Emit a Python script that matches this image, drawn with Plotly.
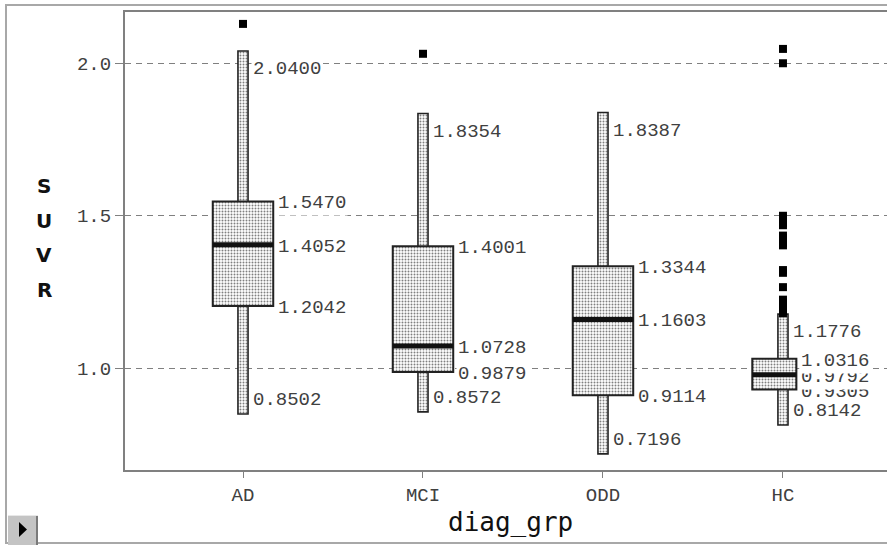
import plotly.graph_objects as go

# ---------------- data ----------------
groups = ["AD", "MCI", "ODD", "HC"]
whisker_low = [0.8502, 0.8572, 0.7196, 0.8142]
q1 = [1.2042, 0.9879, 0.9114, 0.9305]
median = [1.4052, 1.0728, 1.1603, 0.9792]
q3 = [1.5470, 1.4001, 1.3344, 1.0316]
whisker_high = [2.0400, 1.8354, 1.8387, 1.1776]

ad_outliers = [2.129]
mci_outliers = [2.031]
odd_outliers = []
hc_outliers = [2.047, 2.000, 1.500, 1.492, 1.484, 1.476, 1.469,
               1.435, 1.427, 1.419, 1.411, 1.403, 1.322, 1.313,
               1.266, 1.225, 1.216, 1.207, 1.198, 1.189, 1.180]

y_tick_vals = [1.0, 1.5, 2.0]
y_tick_text = ["1.0", "1.5", "2.0"]
x_title = "diag_grp"
y_title = "SUVR"

# ---------------- style ----------------
W, H = 887, 545
ML, MR, MT, MB = 125, 0, 12, 75
box_width = [0.336, 0.336, 0.336, 0.245]
box_shift = [0.0, 0.0, 0.0, -0.048]
whisker_width = 0.056
mono = "Liberation Mono"
txt_col = "#404040"
frame_col = "#808080"

idx = list(range(len(groups)))
pattern = dict(shape=".", fgcolor="#000000", bgcolor="#ffffff", size=3, solidity=0.33)

fig = go.Figure()

# whiskers as narrow patterned bars
fig.add_trace(go.Bar(
    x=idx, base=whisker_low,
    y=[h - l for h, l in zip(whisker_high, whisker_low)],
    width=whisker_width, offset=-whisker_width / 2,
    marker=dict(color="#ffffff", line=dict(color="#222222", width=1.6), pattern=pattern),
    showlegend=False, hoverinfo="skip"))

# boxes
fig.add_trace(go.Bar(
    x=idx, base=q1,
    y=[b - a for b, a in zip(q3, q1)],
    width=box_width,
    offset=[s - w / 2 for s, w in zip(box_shift, box_width)],
    marker=dict(color="#ffffff", line=dict(color="#222222", width=2), pattern=pattern),
    showlegend=False, hoverinfo="skip"))

# medians
mx, my = [], []
for i, m, w, s in zip(idx, median, box_width, box_shift):
    mx += [i + s - w / 2, i + s + w / 2, None]
    my += [m, m, None]
fig.add_trace(go.Scatter(x=mx, y=my, mode="lines",
                         line=dict(color="#111111", width=5),
                         showlegend=False, hoverinfo="skip"))

# outliers
ox, oy = [], []
for i, vals in zip(idx, [ad_outliers, mci_outliers, odd_outliers, hc_outliers]):
    ox += [i] * len(vals)
    oy += vals
fig.add_trace(go.Scatter(x=ox, y=oy, mode="markers",
                         marker=dict(symbol="square", size=8, color="#000000",
                                     line=dict(width=0)),
                         showlegend=False, hoverinfo="skip"))

# value labels
annotations = []
lab_font = dict(family=mono, size=19, color=txt_col)
for i in idx:
    bx = i + box_shift[i] + box_width[i] / 2
    wx = i + whisker_width / 2
    items = [
        (bx, q1[i], -2),
        (bx, median[i], -2),
        (bx, q3[i], -2),
        (wx, whisker_high[i], -18.3),
        (wx, whisker_low[i], 13.5),
    ]
    for x, v, ys in items:
        annotations.append(dict(
            x=x, y=v, xref="x", yref="y", text=f"{v:.4f}", showarrow=False,
            xanchor="left", yanchor="middle", xshift=3, yshift=ys,
            font=lab_font, bgcolor="#ffffff", borderpad=1))

# pixel -> paper helpers
pw, ph = W - ML - MR, H - MT - MB
def px(xp):
    return (xp - ML) / pw
def py(yp):
    return (H - MB - yp) / ph

# y title as stacked letters
for k, ch in enumerate(y_title):
    annotations.append(dict(
        x=px(44), y=py(186 + k * 34.7), xref="paper", yref="paper",
        text=ch, showarrow=False, xanchor="center", yanchor="middle",
        font=dict(family="DejaVu Sans", size=20, color="#111111", weight="bold")))

# x title
annotations.append(dict(
    x=px(510), y=py(522), xref="paper", yref="paper", text=x_title,
    showarrow=False, xanchor="center", yanchor="middle",
    font=dict(family="DejaVu Sans Mono", size=26, color="#111111")))

shapes = [
    # outer frame
    dict(type="rect", xref="paper", yref="paper", x0=px(6), x1=px(900),
         y0=py(543), y1=py(5), line=dict(color="#a8a8a8", width=2), layer="below"),
    # small button
    dict(type="rect", xref="paper", yref="paper", x0=px(8), x1=px(38),
         y0=py(545), y1=py(515), fillcolor="#c4c4c4", line=dict(width=0)),
    dict(type="line", xref="paper", yref="paper", x0=px(37), x1=px(37),
         y0=py(545), y1=py(515), line=dict(color="#7a7a7a", width=2)),
    dict(type="line", xref="paper", yref="paper", x0=px(8), x1=px(38),
         y0=py(515.5), y1=py(515.5), line=dict(color="#e8e8e8", width=1)),
    dict(type="path", xref="paper", yref="paper",
         path=f"M {px(19)} {py(522)} L {px(19)} {py(537)} L {px(27)} {py(529.5)} Z",
         fillcolor="#000000", line=dict(width=0)),
]

fig.update_layout(
    width=W, height=H, autosize=False,
    margin=dict(l=ML, r=MR, t=MT, b=MB, pad=0),
    paper_bgcolor="#ffffff", plot_bgcolor="#ffffff",
    barmode="overlay", showlegend=False, hovermode=False,
    annotations=annotations, shapes=shapes,
    xaxis=dict(range=[-0.6556, 3.578], tickmode="array", tickvals=idx, ticktext=groups,
               showgrid=False, zeroline=False, showline=True, linecolor=frame_col,
               linewidth=2, mirror=True, ticks="outside", ticklen=6, tickwidth=1,
               tickcolor=frame_col, tickfont=dict(family=mono, size=19, color=txt_col)),
    yaxis=dict(range=[0.6666, 2.168], tickmode="array", tickvals=y_tick_vals,
               ticktext=y_tick_text, showgrid=True, gridcolor=frame_col, gridwidth=1,
               griddash="6px,5px", zeroline=False, showline=True, linecolor=frame_col,
               linewidth=2, ticks="outside", ticklen=8, tickwidth=1, tickcolor=frame_col,
               ticklabelstandoff=0,
               tickfont=dict(family=mono, size=19, color=txt_col)),
)

fig.write_html(
    "out.html",
    config={"displayModeBar": False, "staticPlot": True},
    post_script="document.body.style.margin='0';document.body.style.overflow='hidden';",
)
